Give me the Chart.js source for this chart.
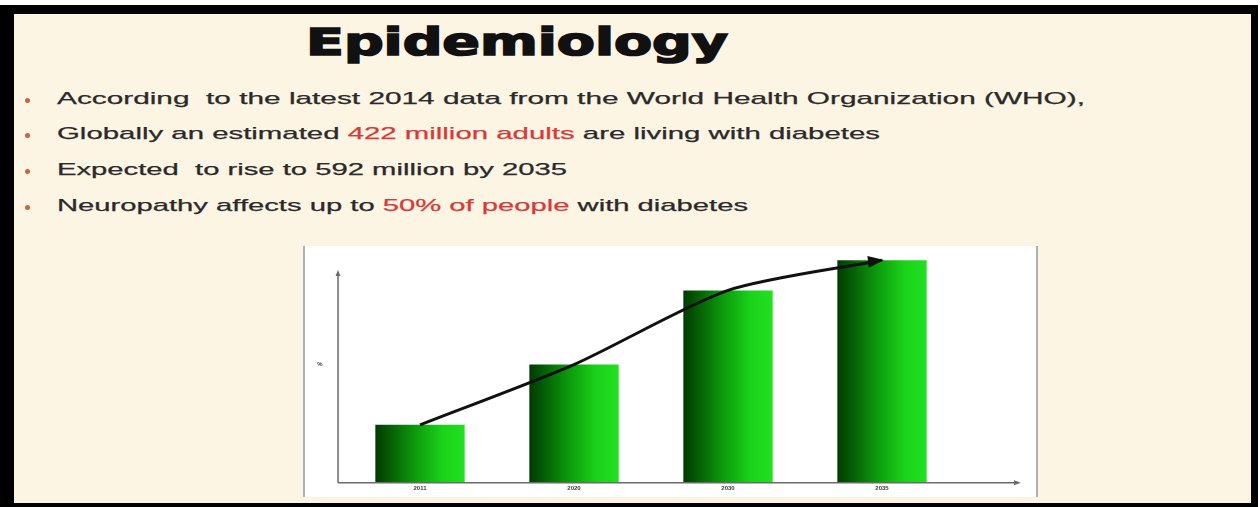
<!DOCTYPE html>
<html>
<head>
<meta charset="utf-8">
<script src="https://cdn.jsdelivr.net/npm/chart.js@4.4.1/dist/chart.umd.min.js"></script>
<style>
  html, body { margin: 0; padding: 0; background: #fff; }
  body { width: 1260px; height: 507px; position: relative; overflow: hidden; }
  #frame { position: absolute; left: 0; top: 5px; width: 1258px; height: 502px; background: #000; }
  #slide { position: absolute; left: 14px; top: 14px; width: 1237px; height: 489px; background: #fdf5e4; }
  .fit { position: absolute; white-space: pre; transform-origin: 0 0; line-height: 1; }
  #title { font-family: "DejaVu Sans", sans-serif; font-weight: 900; font-size: 37px; color: #111;
           -webkit-text-stroke: 1.6px #111; }
  .bullet { font-family: "Liberation Sans", Arial, sans-serif; font-size: 17px; color: #2a2a2a;
            -webkit-text-stroke: 0.25px #2a2a2a; }
  .red { color: #d83a3a; -webkit-text-stroke-color: #d83a3a; }
  .dot { position: absolute; left: 25px; width: 5px; height: 5px; border-radius: 50%; background: #c9653c; }
  #plotBox { position: absolute; left: 303px; top: 246px; width: 731px; height: 251px; background: #fff;
             border-left: 2px solid #b0b0b0; border-right: 2px solid #b0b0b0; }
  #chartWrap { position: absolute; left: 300px; top: 240px; width: 740px; height: 262px; }
</style>
</head>
<body>
<div id="frame"></div>
<div id="slide"></div>

<div id="title" class="fit" data-x="306" data-base="55" data-w="422">Epidemiology</div>

<div class="dot" style="top:98px"></div>
<div class="bullet fit" data-x="57" data-base="104" data-w="1028">According  to the latest 2014 data from the World Health Organization (WHO),</div>
<div class="dot" style="top:133px"></div>
<div class="bullet fit" data-x="57" data-base="139" data-w="823">Globally an estimated <span class="red">422 million adults</span> are living with diabetes</div>
<div class="dot" style="top:169px"></div>
<div class="bullet fit" data-x="57" data-base="175" data-w="510">Expected  to rise to 592 million by 2035</div>
<div class="dot" style="top:205px"></div>
<div class="bullet fit" data-x="57" data-base="211" data-w="691">Neuropathy affects up to <span class="red">50% of people</span> with diabetes</div>

<div id="plotBox"></div>
<div id="chartWrap"><canvas id="growthChart"></canvas></div>

<script>
// Chart data (heights, relative to the axis top = 100)
const years = ['2011', '2020', '2030', '2035'];
const diabetesLevel = [25, 51, 83, 96];
const yAxisLabel = '%';

// stretch each text line to the width it has in the slide
function fitText() {
  document.querySelectorAll('.fit').forEach(function (el) {
    const size = parseFloat(getComputedStyle(el).fontSize);
    el.style.left = el.dataset.x + 'px';
    el.style.top = (parseFloat(el.dataset.base) - size * 0.846) + 'px';
    const w = el.getBoundingClientRect().width;
    el.style.transform = 'scaleX(' + (parseFloat(el.dataset.w) / w) + ')';
  });
}

// green bar shading, dark on the left and bright on the right
function barGradient(ctx) {
  const chart = ctx.chart;
  const xScale = chart.scales.x;
  if (!xScale || !chart.chartArea) return '#12b012';
  const center = xScale.getPixelForValue(ctx.dataIndex);
  const half = (chart.chartArea.width / years.length) * 0.58 / 2;
  const g = chart.ctx.createLinearGradient(center - half, 0, center + half, 0);
  g.addColorStop(0, '#013a01');
  g.addColorStop(0.45, '#0c9c0c');
  g.addColorStop(0.75, '#1ad21a');
  g.addColorStop(1, '#22e022');
  return g;
}

// axis lines with arrows and the arrow head at the end of the trend line
const axesPlugin = {
  id: 'axesPlugin',
  afterDatasetsDraw(chart) {
    const c = chart.ctx;
    const a = chart.chartArea;
    const x0 = a.left - 5;
    const y0 = a.bottom;
    c.save();
    c.strokeStyle = '#6a6a6a';
    c.fillStyle = '#6a6a6a';
    c.lineWidth = 1.5;
    c.beginPath();
    c.moveTo(x0, y0);
    c.lineTo(x0, a.top + 22);
    c.moveTo(x0, y0);
    c.lineTo(a.right + 58, y0);
    c.stroke();
    c.beginPath();
    c.moveTo(x0, a.top + 19); c.lineTo(x0 - 2.5, a.top + 25); c.lineTo(x0 + 2.5, a.top + 25);
    c.closePath(); c.fill();
    c.beginPath();
    c.moveTo(a.right + 62, y0); c.lineTo(a.right + 55, y0 - 2.5); c.lineTo(a.right + 55, y0 + 2.5);
    c.closePath(); c.fill();

    c.fillStyle = '#444';
    c.font = 'bold 6px "Liberation Sans", sans-serif';
    c.textAlign = 'center';
    c.textBaseline = 'middle';
    c.fillText(yAxisLabel, x0 - 18, a.top + 113);

    // trend arrow head
    const pts = chart.getDatasetMeta(1).data;
    const p = pts[pts.length - 1];
    const q = pts[pts.length - 2];
    const ang = Math.atan2(p.y - q.y, p.x - q.x) * 0.6;
    c.fillStyle = '#111';
    c.translate(p.x, p.y);
    c.rotate(ang);
    c.beginPath();
    c.moveTo(2, 0);
    c.lineTo(-14, -6);
    c.lineTo(-14, 6);
    c.closePath();
    c.fill();
    c.restore();
  }
};

function generateGrowthChart() {
  const ctx = document.getElementById('growthChart').getContext('2d');
  new Chart(ctx, {
    data: {
      labels: years,
      datasets: [{
        type: 'bar',
        data: diabetesLevel,
        backgroundColor: barGradient,
        borderWidth: 0,
        barPercentage: 0.58,
        categoryPercentage: 1,
        order: 2
      }, {
        type: 'line',
        data: diabetesLevel,
        borderColor: '#111',
        borderWidth: 3,
        pointRadius: 0,
        tension: 0.25,
        fill: false,
        order: 1
      }]
    },
    options: {
      responsive: true,
      maintainAspectRatio: false,
      animation: false,
      layout: { padding: { left: 43, right: 81, top: 11, bottom: 8 } },
      plugins: { legend: { display: false }, tooltip: { enabled: false } },
      scales: {
        x: {
          grid: { display: false, drawTicks: false },
          border: { display: false },
          ticks: { color: '#3a3a3a', font: { size: 6, weight: 'bold' }, padding: 2 }
        },
        y: {
          display: false,
          min: 0,
          max: 100
        }
      }
    },
    plugins: [axesPlugin]
  });
}

document.fonts.ready.then(function () {
  fitText();
  generateGrowthChart();
});
</script>
</body>
</html>
